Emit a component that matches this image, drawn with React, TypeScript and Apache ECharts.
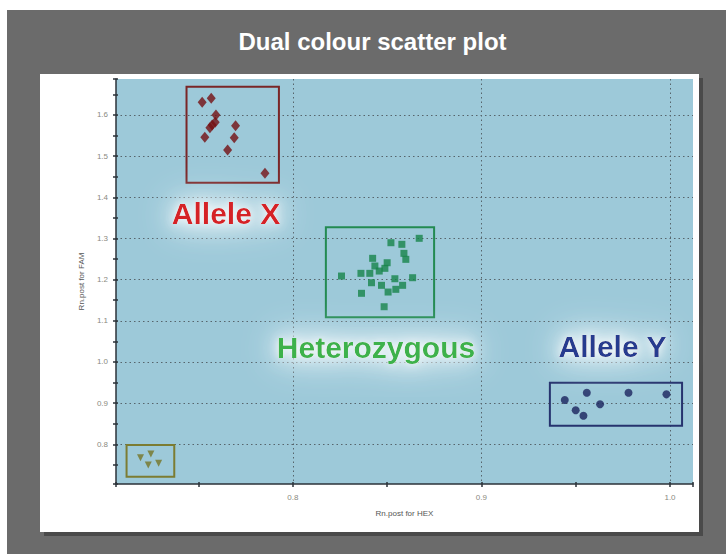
import React, { useEffect, useRef } from 'react';
import * as echarts from 'echarts';

const X_MIN = 0.7062;
const X_MAX = 1.0122;
const Y_MIN = 0.7036;
const Y_MAX = 1.6874;

const alleleX: number[][] = [
  [0.7519, 1.6307], [0.7567, 1.6404], [0.7592, 1.6], [0.7588, 1.5821],
  [0.7572, 1.5756], [0.756, 1.569], [0.7533, 1.5457], [0.7696, 1.5739],
  [0.7689, 1.5447], [0.7654, 1.5148], [0.7852, 1.4582],
];
const heterozygous: number[][] = [
  [0.867, 1.3004], [0.852, 1.2897], [0.8578, 1.2858], [0.8589, 1.2639],
  [0.8599, 1.2493], [0.8423, 1.2518], [0.8435, 1.2331], [0.85, 1.2411],
  [0.8488, 1.2275], [0.8458, 1.2209], [0.8408, 1.2153], [0.8361, 1.2153],
  [0.8258, 1.2088], [0.8541, 1.2022], [0.8635, 1.2047], [0.8417, 1.1925],
  [0.847, 1.1862], [0.8582, 1.1862], [0.8546, 1.1765], [0.8505, 1.1699],
  [0.8364, 1.1668], [0.8484, 1.1342],
];
const alleleY: number[][] = [
  [0.9442, 0.9076], [0.9559, 0.9253], [0.95, 0.8826], [0.9541, 0.8695],
  [0.9629, 0.8972], [0.978, 0.9253], [0.9981, 0.9214],
];
const ntc: number[][] = [
  [0.7192, 0.7675], [0.7247, 0.7764], [0.7233, 0.7497], [0.7288, 0.7538],
];

// boxes: [xMin, yMin, xMax, yMax]
const alleleXBox = [0.7436, 1.4354, 0.7926, 1.6686];
const heterozygousBox = [0.8175, 1.1085, 0.8749, 1.3271];
const alleleYBox = [0.9363, 0.8452, 1.0064, 0.9496];
const ntcBox = [0.7118, 0.7213, 0.7371, 0.7983];

const FONT = '"Liberation Sans", Arial, sans-serif';
const isMajor = (v: number) => Math.abs(v * 10 - Math.round(v * 10)) < 1e-6;

const boxArea = (box: number[], color: string) => ({
  silent: true,
  itemStyle: { color: 'rgba(0,0,0,0)', borderColor: color, borderWidth: 2 },
  data: [[{ coord: [box[0], box[3]] }, { coord: [box[2], box[1]] }]],
});

export default function App() {
  const ref = useRef<HTMLDivElement>(null);
  useEffect(() => {
    const chart = echarts.init(ref.current!, null, { renderer: 'svg', width: 726, height: 554 });
    const axisColor = '#2b3238';
    const dotted = { color: '#56656c', width: 1, type: [1.5, 3] as any };
    const mkX = (kind: string) => {
      const base: any = {
        type: 'value', min: X_MIN, max: X_MAX, position: 'bottom',
        axisLine: { show: false, onZero: false },
        axisTick: { show: false }, axisLabel: { show: false }, splitLine: { show: false },
      };
      if (kind === 'main') {
        base.splitNumber = 6;
        base.axisLine = { show: true, onZero: false, lineStyle: { color: axisColor, width: 1.5 } };
        base.axisTick = { show: true, length: 3, lineStyle: { color: axisColor, width: 1.5 } };
        base.axisLabel = {
          show: true, fontSize: 8, color: '#8a8a80', fontFamily: FONT, margin: 9,
          formatter: (v: number) => (isMajor(v) ? v.toFixed(1) : ''),
        };
        base.name = 'Rn.post for HEX';
        base.nameLocation = 'middle';
        base.nameGap = 25;
        base.nameTextStyle = { fontSize: 8, color: '#555', fontFamily: FONT };
      } else if (kind === 'split') {
        base.splitNumber = 3;
        base.splitLine = { show: true, showMinLine: false, showMaxLine: false, lineStyle: dotted };
      } else {
        base.splitNumber = 6;
        base.axisTick = { show: true, inside: true, length: 2, lineStyle: { color: axisColor, width: 1.5 } };
      }
      return base;
    };
    const mkY = (kind: string) => {
      const base: any = {
        type: 'value', min: Y_MIN, max: Y_MAX, position: 'left',
        axisLine: { show: false, onZero: false },
        axisTick: { show: false }, axisLabel: { show: false }, splitLine: { show: false },
      };
      if (kind === 'main') {
        base.splitNumber = 18;
        base.axisLine = { show: true, onZero: false, lineStyle: { color: axisColor, width: 1.5 } };
        base.axisTick = { show: true, length: 3, lineStyle: { color: axisColor, width: 1.5 } };
        base.axisLabel = {
          show: true, fontSize: 8, color: '#8a8a80', fontFamily: FONT, margin: 8,
          formatter: (v: number) => (isMajor(v) ? v.toFixed(1) : ''),
        };
        base.name = 'Rn.post for FAM';
        base.nameLocation = 'middle';
        base.nameGap = 26;
        base.nameTextStyle = { fontSize: 8, color: '#555', fontFamily: FONT };
      } else if (kind === 'split') {
        base.splitNumber = 8;
        base.splitLine = { show: true, showMinLine: false, showMaxLine: false, lineStyle: dotted };
      } else {
        base.splitNumber = 18;
        base.axisTick = { show: true, inside: true, length: 2, lineStyle: { color: axisColor, width: 1.5 } };
      }
      return base;
    };
    const glowText = (text: string, x: number, y: number, color: string) => {
      const font = `bold 30px ${FONT}`;
      const halo = (z: number, blur: number) => ({
        type: 'text', x, y, z, silent: true,
        style: {
          text, fill: '#ffffff', font, align: 'center', verticalAlign: 'middle',
          textShadowColor: 'rgba(255,255,255,1)', textShadowBlur: blur,
        },
      });
      return [
        halo(89, 40),
        halo(90, 30),
        halo(91, 20),
        {
          type: 'text', x, y, z: 100,
          style: {
            text, fill: color, font, align: 'center', verticalAlign: 'middle',
            textShadowColor: 'rgba(255,255,255,0.9)', textShadowBlur: 8,
          },
        },
      ];
    };
    chart.setOption({
      animation: false,
      backgroundColor: '#ffffff',
      grid: {
        left: 116, top: 79, width: 577, height: 405,
        show: true, backgroundColor: '#9dc9d9', borderWidth: 0,
      },
      xAxis: [mkX('main'), mkX('split'), mkX('inner')],
      yAxis: [mkY('main'), mkY('split'), mkY('inner')],
      graphic: [
        { type: 'rect', z: -10, shape: { x: 7, y: 10, width: 719, height: 544 }, style: { fill: '#6b6b6b' } },
        { type: 'rect', z: -9, shape: { x: 44, y: 78, width: 659, height: 458 }, style: { fill: '#4a4a4a' } },
        { type: 'rect', z: -8, shape: { x: 40, y: 74, width: 659, height: 458 }, style: { fill: '#ffffff' } },
        {
          type: 'text', x: 372.5, y: 41, z: 100,
          style: { text: 'Dual colour scatter plot', fill: '#ffffff', font: `bold 24px ${FONT}`, align: 'center', verticalAlign: 'middle' },
        },
        ...glowText('Allele X', 226, 213, '#d52128'),
        ...glowText('Heterozygous', 376, 347, '#3db24b'),
        ...glowText('Allele Y', 612.5, 346, '#263a8f'),
      ],
      series: [
        {
          name: 'Allele X', type: 'scatter', data: alleleX, symbol: 'diamond', symbolSize: [9, 11],
          itemStyle: { color: '#741013' }, markArea: boxArea(alleleXBox, '#7a2627'),
        },
        {
          name: 'Heterozygous', type: 'scatter', data: heterozygous, symbol: 'rect', symbolSize: 7,
          itemStyle: { color: '#18854a' }, markArea: boxArea(heterozygousBox, '#238a52'),
        },
        {
          name: 'Allele Y', type: 'scatter', data: alleleY, symbol: 'circle', symbolSize: 8,
          itemStyle: { color: '#1a235c' }, markArea: boxArea(alleleYBox, '#26336e'),
        },
        {
          name: 'NTC', type: 'scatter', data: ntc, symbol: 'triangle', symbolRotate: 180, symbolSize: 7,
          itemStyle: { color: '#767626' }, markArea: boxArea(ntcBox, '#7c7c32'),
        },
      ],
    });
    return () => chart.dispose();
  }, []);
  return <div ref={ref} style={{ position: 'fixed', left: 0, top: 0, width: 726, height: 554 }} />;
}
